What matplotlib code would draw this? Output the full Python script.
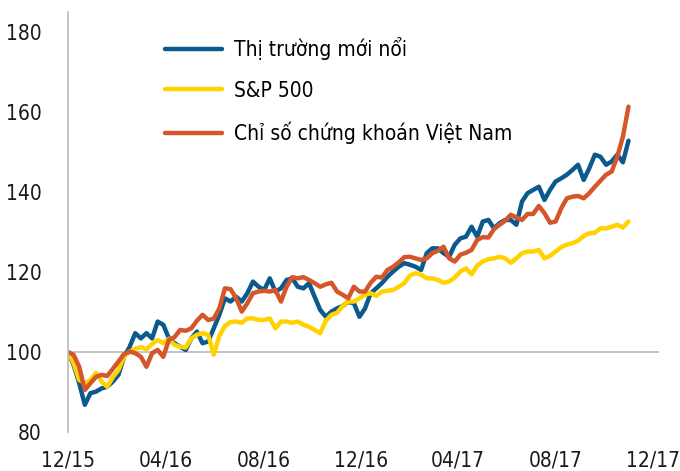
"""
Recreate the index comparison chart: emerging markets vs S&P 500 vs Vietnam
stock index, rebased to 100 at 12/15.
"""

import matplotlib
matplotlib.use("Agg")
import matplotlib.pyplot as plt
import matplotlib.dates as mdates
from matplotlib import font_manager
import pandas as pd

# ---------------------------------------------------------------------------
# Data (weekly readings, rebased to 100 on 01/12/2015)
# ---------------------------------------------------------------------------
START = "2015-12-01"

em_values = [
    100.0, 96.8, 92.2, 86.8, 89.7, 90.1, 90.9, 91.3, 92.6, 94.3,
    98.8, 101.3, 104.7, 103.4, 104.7, 103.4, 107.6, 106.8, 103.4, 102.2,
    101.3, 100.5, 103.4, 105.1, 102.2, 102.6, 105.9, 109.3, 113.4, 112.6,
    113.8, 112.6, 114.7, 117.6, 116.3, 115.5, 118.4, 115.1, 115.9, 118.0,
    118.4, 116.3, 115.9, 117.2, 113.8, 110.5, 108.8, 110.1, 110.9, 111.5,
    112.5, 112.2, 108.8, 110.9, 114.7, 115.9, 117.2, 118.8, 120.1, 121.3,
    122.2, 121.8, 121.3, 120.5, 124.7, 125.9, 125.9, 124.7, 123.8, 126.8,
    128.4, 128.8, 131.3, 128.8, 132.6, 133.0, 130.9, 132.2, 133.0, 133.0,
    131.8, 137.6, 139.7, 140.5, 141.3, 138.0, 140.5, 142.6, 143.4, 144.3,
    145.5, 146.8, 143.0, 145.9, 149.3, 148.8, 146.8, 147.6, 149.3, 147.4,
    152.8,
]

sp500_values = [
    100.0, 97.2, 93.0, 92.2, 93.0, 94.8, 92.6, 91.3, 93.7, 95.5,
    98.8, 100.1, 100.8, 101.2, 100.7, 102.0, 103.0, 102.2, 103.3, 101.8,
    101.3, 101.1, 103.4, 104.3, 104.7, 104.3, 99.3, 104.0, 106.5, 107.5,
    107.6, 107.3, 108.4, 108.4, 108.0, 108.0, 108.4, 105.9, 107.6, 107.6,
    107.3, 107.6, 106.8, 106.3, 105.5, 104.7, 107.8, 109.3, 109.8, 111.5,
    112.6, 112.6, 113.4, 114.3, 114.7, 114.0, 115.1, 115.3, 115.5, 116.3,
    117.2, 119.1, 119.7, 119.3, 118.4, 118.4, 118.0, 117.3, 117.6, 118.6,
    120.1, 120.9, 119.4, 121.6, 122.6, 123.2, 123.4, 123.8, 123.4, 122.3,
    123.4, 124.7, 125.1, 125.1, 125.5, 123.4, 124.0, 125.1, 126.2, 126.8,
    127.2, 127.8, 129.0, 129.7, 129.8, 130.9, 130.9, 131.3, 131.8, 131.1,
    132.6,
]

vn_values = [
    100.0, 99.3, 96.3, 90.5, 92.2, 93.8, 94.3, 94.0, 95.8, 97.6,
    99.5, 100.1, 99.7, 98.8, 96.3, 99.7, 100.5, 98.8, 103.0, 103.7,
    105.5, 105.3, 105.9, 107.8, 109.3, 108.0, 108.3, 110.9, 115.9, 115.7,
    113.4, 110.1, 112.2, 114.7, 115.1, 115.3, 115.1, 115.5, 112.6, 116.3,
    118.7, 118.4, 118.7, 118.0, 117.2, 116.3, 116.9, 117.3, 115.1, 114.3,
    113.4, 116.3, 115.1, 115.1, 117.3, 118.8, 118.6, 120.5, 121.3, 122.4,
    123.7, 123.8, 123.4, 123.0, 123.4, 124.7, 125.3, 126.3, 123.4, 122.6,
    124.3, 124.8, 125.5, 128.0, 128.7, 128.6, 130.7, 131.8, 132.8, 134.3,
    133.6, 133.0, 134.5, 134.5, 136.5, 134.7, 132.3, 132.6, 135.9, 138.4,
    138.8, 139.0, 138.4, 139.7, 141.3, 142.8, 144.3, 145.1, 148.8, 153.8,
    161.3,
]

labels = ["Thị trường mới nổi", "S&P 500", "Chỉ số chứng khoán Việt Nam"]
colors = ["#0B5A8E", "#FFD200", "#D5562A"]

tick_dates = ["2015-12-01", "2016-04-01", "2016-08-01", "2016-12-01",
              "2017-04-01", "2017-08-01", "2017-12-01"]
y_ticks = [80, 100, 120, 140, 160, 180]

dates = pd.date_range(START, periods=len(em_values), freq="7D")


# ---------------------------------------------------------------------------
# Font: the original uses a narrow sans, pick a condensed face if present
# ---------------------------------------------------------------------------
def find_narrow_font():
    files = sorted(set(f.fname for f in font_manager.fontManager.ttflist)
                   | set(font_manager.findSystemFonts()))
    for key in ["LiberationSansNarrow-Regular", "DejaVuSansCondensed.ttf"]:
        for f in files:
            if key.lower() in f.lower():
                return f
    return None


narrow_file = find_narrow_font()
if narrow_file:
    font_manager.fontManager.addfont(narrow_file)
    family = font_manager.FontProperties(fname=narrow_file).get_name()
    plt.rcParams["font.family"] = [family, "DejaVu Sans"]
    if "Condensed" in narrow_file:
        plt.rcParams["font.stretch"] = "condensed"
else:
    plt.rcParams["font.family"] = ["Liberation Sans", "DejaVu Sans"]

FONT_SIZE = 15

# ---------------------------------------------------------------------------
# Plot
# ---------------------------------------------------------------------------
fig = plt.figure(figsize=(6.8, 4.71), dpi=100)
ax = fig.add_axes([0.1, 0.0828, 0.869, 0.892])

for series, label, color in zip([em_values, sp500_values, vn_values], labels, colors):
    ax.plot(dates, series, color=color, lw=3.2, label=label,
            solid_joinstyle="round", solid_capstyle="round")

ax.axhline(100, color="#BFBFBF", lw=1.3, zorder=0)

ax.set_xlim(pd.Timestamp("2015-12-01"), pd.Timestamp("2017-12-08"))
ax.set_ylim(80, 185)

ax.set_yticks(y_ticks)
ax.set_xticks(pd.to_datetime(tick_dates))
ax.xaxis.set_major_formatter(mdates.DateFormatter("%m/%y"))
ax.tick_params(axis="both", length=0, labelsize=FONT_SIZE, colors="#1A1A1A")
ax.tick_params(axis="y", pad=19)
ax.tick_params(axis="x", pad=13)

for side in ["top", "right", "bottom"]:
    ax.spines[side].set_visible(False)
ax.spines["left"].set_color("#BFBFBF")
ax.spines["left"].set_linewidth(1.3)

leg = ax.legend(loc="upper left", bbox_to_anchor=(0.133, 0.985), frameon=False,
                fontsize=FONT_SIZE, handlelength=2.7, handletextpad=0.6,
                labelspacing=1.0)
for line in leg.get_lines():
    line.set_linewidth(3.2)
    line.set_solid_capstyle("round")

fig.savefig("out.png", dpi=100)
